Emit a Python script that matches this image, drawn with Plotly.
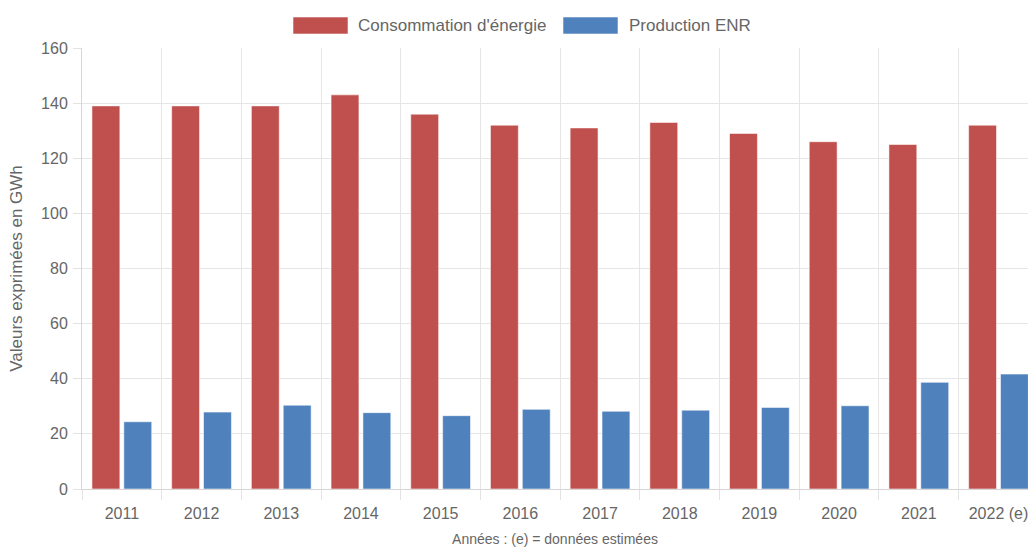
import plotly.graph_objects as go

years = ["2011", "2012", "2013", "2014", "2015", "2016", "2017", "2018", "2019", "2020", "2021", "2022 (e)"]
consommation = [139, 139, 139, 143, 136, 132, 131, 133, 129, 126, 125, 132]
production_enr = [24.4, 27.9, 30.4, 27.7, 26.6, 28.9, 28.2, 28.6, 29.6, 30.2, 38.7, 41.7]
series_names = ["Consommation d'énergie", "Production ENR"]
colors = ["#c0504d", "#4f81bd"]
y_ticks = [0, 20, 40, 60, 80, 100, 120, 140, 160]

W, H = 1028, 547
ML, MT, MB, MR = 82, 48, 58, 0

fig = go.Figure()
for name, vals, col in zip(series_names, [consommation, production_enr], colors):
    fig.add_trace(go.Bar(
        x=years, y=vals, name=name,
        marker=dict(color=col, line=dict(color="rgba(255,255,255,0.55)", width=1)),
        showlegend=False,
    ))

font_fam = "Liberation Sans, Arial, sans-serif"
fig.update_layout(
    width=W, height=H,
    margin=dict(l=ML, r=MR, t=MT, b=MB, pad=0),
    paper_bgcolor="white", plot_bgcolor="white",
    barmode="group", bargap=0.2, bargroupgap=0.125,
    font=dict(family=font_fam, size=16, color="#666666"),
)
fig.update_xaxes(
    type="category", range=[-0.5, 11.37],
    tickson="boundaries", ticks="outside", ticklen=10, tickcolor="#e3e3e3",
    ticklabelstandoff=10,
    showgrid=True, gridcolor="#e6e6e6", gridwidth=1,
    showline=True, linecolor="#d6d6d6", linewidth=1,
    tickfont=dict(size=16, color="#666666"),
    title=dict(text="Années : (e) = données estimées", font=dict(size=14, color="#666666"), standoff=12),
    fixedrange=True,
)
fig.update_yaxes(
    range=[0, 160], tickvals=y_ticks,
    ticks="outside", ticklen=8, tickcolor="#e3e3e3",
    ticklabelstandoff=2,
    showgrid=True, gridcolor="#e6e6e6", gridwidth=1,
    showline=True, linecolor="#d6d6d6", linewidth=1,
    zeroline=False,
    tickfont=dict(size=16, color="#666666"),
    title=dict(text="Valeurs exprimées en GWh", font=dict(size=17, color="#666666"), standoff=14),
    fixedrange=True,
)

# custom legend (Chart.js style wide boxes)
legend_items = [(293, 356), (563, 627)]
for (bx, tx), name, col in zip(legend_items, series_names, colors):
    fig.add_shape(type="rect", xref="paper", yref="paper",
                  x0=(bx - ML) / (W - ML - MR), x1=(bx + 55 - ML) / (W - ML - MR),
                  y0=(H - MB - 34) / (H - MT - MB), y1=(H - MB - 17) / (H - MT - MB),
                  fillcolor=col, line=dict(color="rgba(255,255,255,0.55)", width=1))
    fig.add_annotation(xref="paper", yref="paper",
                       x=(tx - ML) / (W - ML - MR), y=(H - MB - 25.5) / (H - MT - MB),
                       text=name, showarrow=False, xanchor="left", yanchor="middle",
                       font=dict(size=17, color="#666666"))

fig.write_html("out.html", config={"displayModeBar": False},
               post_script="document.body.style.margin='0';document.body.style.overflow='hidden';")
